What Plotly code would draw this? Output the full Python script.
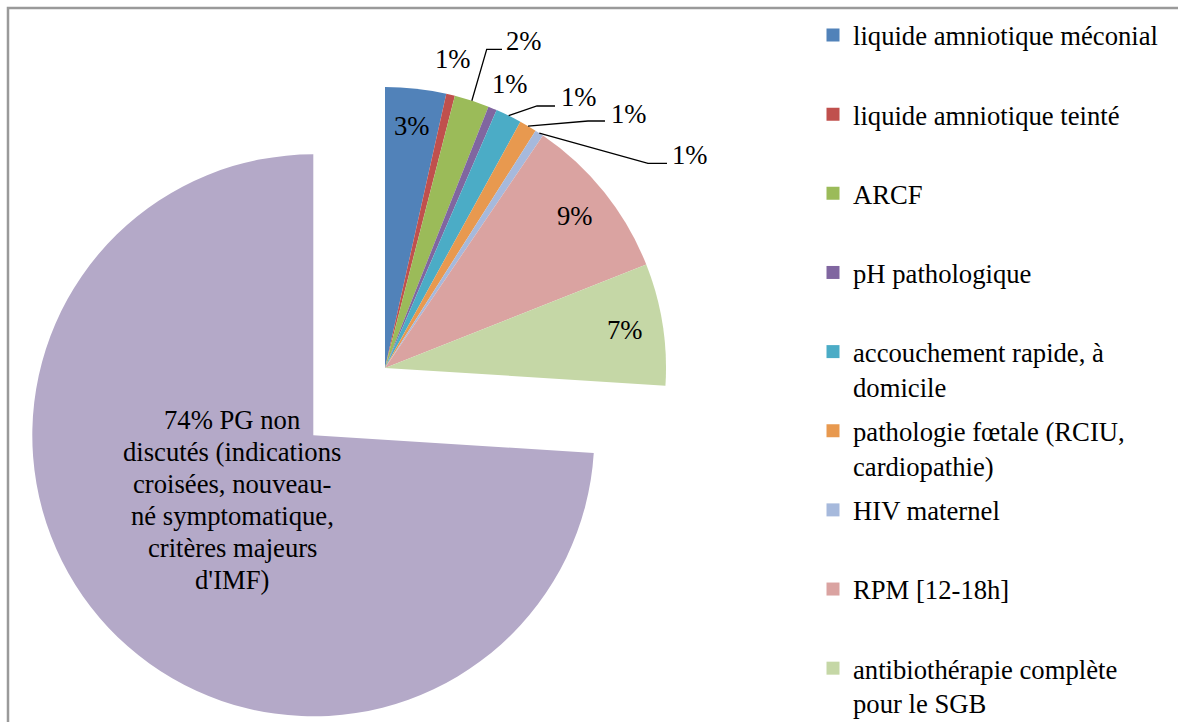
import math
import plotly.graph_objects as go

# ---------------- data ----------------
categories = [
    "liquide amniotique méconial",
    "liquide amniotique teinté",
    "ARCF",
    "pH pathologique",
    "accouchement rapide, à domicile",
    "pathologie fœtale (RCIU, cardiopathie)",
    "HIV maternel",
    "RPM [12-18h]",
    "antibiothérapie complète pour le SGB",
    "PG non discutés (indications croisées, nouveau-né symptomatique, critères majeurs d'IMF)",
]
counts = [7, 1, 4, 1, 3, 2, 1, 19, 14, 148]
pct_labels = ["3%", "1%", "2%", "1%", "1%", "1%", "1%", "9%", "7%", "74%"]
legend_text = [
    "liquide amniotique méconial",
    "liquide amniotique teinté",
    "ARCF",
    "pH pathologique",
    "accouchement rapide, à<br>domicile",
    "pathologie fœtale (RCIU,<br>cardiopathie)",
    "HIV maternel",
    "RPM [12-18h]",
    "antibiothérapie complète<br>pour le SGB",
]
big_label_lines = ["74% PG non", "discutés (indications", "croisées, nouveau-",
                   "né symptomatique,", "critères majeurs", "d'IMF)"]

# ---------------- style / layout ----------------
colors = ["#5182B9", "#C0504D", "#9BBB59", "#8066A0", "#4BACC6",
          "#E8994F", "#A6B9DC", "#DAA3A1", "#C5D7A6", "#B4A9C8"]
FONT = "Liberation Serif, Times New Roman, serif"
FS = 26.67
W, H = 1178, 722
CX, CY, R = 385, 368, 281        # pie centre / radius in pixels
PULL = 0.35                      # explosion of the large slice
BIG = 9
INSIDE = [0, 7, 8]
INSIDE_RF = 0.865
# outside labels: index -> (text centre x, y, leader elbow points)
OUTSIDE = {
    1: (453, 59, []),
    2: (524, 41, [(486.7, 49.3), (502, 49.3)]),
    3: (509.5, 84, []),
    4: (578.5, 96.5, [(537, 106), (555, 106)]),
    5: (629, 114, [(588, 121), (605, 121)]),
    6: (689.5, 155, [(648, 163.3), (667, 163.3)]),
}
BIG_LABEL_OFFSET = (-81, 65)
BIG_LINE_STEP = 32


def px(x):
    return x / W


def py(y):
    return 1 - y / H


total = sum(counts)
starts, ends = [], []
acc = 0
for c in counts:
    starts.append(360 * acc / total)
    acc += c
    ends.append(360 * acc / total)
mids = [(s + e) / 2 for s, e in zip(starts, ends)]


def polar(cx, cy, r, deg):
    a = math.radians(deg)
    return cx + r * math.sin(a), cy - r * math.cos(a)


BCX, BCY = polar(CX, CY, PULL * R, mids[BIG])


def domain(cx, cy):
    return dict(x=[px(cx - R), px(cx + R)], y=[py(cy + R), py(cy - R)])


transparent = "rgba(0,0,0,0)"
col_main = [transparent if i == BIG else c for i, c in enumerate(colors)]
col_big = [c if i == BIG else transparent for i, c in enumerate(colors)]

fig = go.Figure()
for cols, (cx, cy) in ((col_main, (CX, CY)), (col_big, (BCX, BCY))):
    fig.add_trace(go.Pie(
        labels=categories, values=counts, sort=False, direction="clockwise",
        rotation=0, textinfo="none", hoverinfo="label+percent",
        marker=dict(colors=cols, line=dict(width=0)),
        domain=domain(cx, cy), showlegend=False,
    ))

# legend entries
for i, name in enumerate(legend_text):
    label = name if "<br>" in name else name + "<br>\u00a0"
    fig.add_trace(go.Scatter(
        x=[None], y=[None], mode="markers", name=label,
        legendgroup=f"g{i}",
        marker=dict(symbol="square", size=13, color=colors[i]),
        hoverinfo="skip",
    ))

annotations = []
shapes = []
# inside labels
for i in INSIDE:
    x, y = polar(CX, CY, INSIDE_RF * R, mids[i])
    annotations.append(dict(x=px(x), y=py(y), xref="paper", yref="paper",
                            text=pct_labels[i], showarrow=False,
                            xanchor="center", yanchor="middle"))
# big slice label (one annotation per line for tighter line spacing)
n = len(big_label_lines)
for k, line in enumerate(big_label_lines):
    ly = BCY + BIG_LABEL_OFFSET[1] + (k - (n - 1) / 2) * BIG_LINE_STEP
    annotations.append(dict(x=px(BCX + BIG_LABEL_OFFSET[0]), y=py(ly),
                            xref="paper", yref="paper", text=line,
                            showarrow=False, xanchor="center", yanchor="middle"))
# outside labels with leader lines
for i, (tx, ty, elbow) in OUTSIDE.items():
    annotations.append(dict(x=px(tx), y=py(ty), xref="paper", yref="paper",
                            text=pct_labels[i], showarrow=False,
                            xanchor="center", yanchor="middle"))
    if elbow:
        sx, sy = polar(CX, CY, R, mids[i])
        pts = [(sx, sy)] + elbow
        path = "M " + " L ".join(f"{px(a):.5f},{py(b):.5f}" for a, b in pts)
        shapes.append(dict(type="path", xref="paper", yref="paper", path=path,
                           line=dict(color="black", width=1.3)))

# chart frame (top and left edges visible)
shapes.append(dict(type="path", xref="paper", yref="paper",
                   path=f"M {px(8):.5f},-0.05 L {px(8):.5f},{py(8):.5f} L 1.05,{py(8):.5f}",
                   line=dict(color="#9a9a9a", width=2.5)))

fig.update_layout(
    width=W, height=H,
    margin=dict(l=0, r=0, t=0, b=0, autoexpand=False),
    paper_bgcolor="white", plot_bgcolor="white",
    font=dict(family=FONT, size=FS, color="black"),
    xaxis=dict(visible=False), yaxis=dict(visible=False),
    showlegend=True,
    legend=dict(x=px(813), y=py(11.2), xanchor="left", yanchor="top",
                valign="top", tracegroupgap=6.8, bgcolor="rgba(0,0,0,0)",
                font=dict(family=FONT, size=FS, color="black"),
                itemclick=False, itemdoubleclick=False),
    annotations=annotations, shapes=shapes,
)

fig.write_html("out.html", config={"displayModeBar": False},
               post_script="document.body.style.margin='0';")
